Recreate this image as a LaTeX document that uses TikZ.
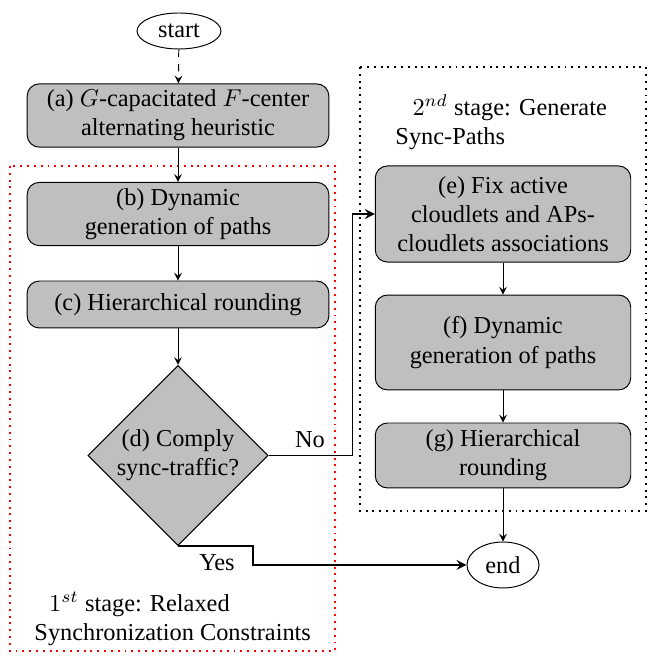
\documentclass[tikz,border=0pt]{standalone}
\usepackage{amsmath}
\usepackage{fontspec}
\setmainfont{Liberation Serif}
\usepackage{tikz}
\usetikzlibrary{shapes,arrows,positioning}

\tikzset{
  block/.style={draw, rounded corners=5pt, fill=gray!50, align=center, minimum width=124pt, inner sep=2pt},
  blockr/.style={block, minimum width=105pt},
  decision/.style={diamond, draw, fill=gray!50, align=center, minimum size=74pt, inner sep=0pt},
  term/.style={ellipse, draw, inner sep=1pt},
  stagebox/.style={dotted, line width=0.8pt},
}

\begin{document}
\begin{tikzpicture}[x=0.411pt, y=-0.411pt, >=stealth]
  \useasboundingbox (0,0) rectangle (667,658);

  % stage boxes
  \draw[stagebox, red] (10,166) rectangle (335,651);
  \draw[stagebox] (360,67) rectangle (646,511);

  % first column
  \node[term, minimum width=34.5pt, minimum height=14.8pt] (start) at (179,31) {start};
  \node[block, minimum height=26pt] (a) at (178,115.5) {(a) $G$-capacitated $F$-center\\alternating heuristic};
  \node[block, minimum height=26pt] (b) at (178,214) {(b) Dynamic\\generation of paths};
  \node[block, minimum height=19.3pt] (c) at (178,304.5) {(c) Hierarchical rounding};
  \node[decision] (d) at (178,455.5) {(d) Comply\\sync-traffic?};

  % second column
  \node[blockr, minimum height=39.5pt] (e) at (503,214) {(e) Fix active\\cloudlets and APs-\\cloudlets associations};
  \node[blockr, minimum height=39pt] (f) at (503,342.5) {(f) Dynamic\\generation of paths};
  \node[blockr, minimum height=26.7pt] (g) at (503,455.5) {(g) Hierarchical\\rounding};
  \node[term, minimum width=29.6pt, minimum height=18.9pt] (end) at (503,565) {end};

  % stage labels
  \node[anchor=north west, align=left, inner sep=0pt] (s2) at (395,94) {\hspace*{7pt}$2^{nd}$ stage: Generate\\Sync-Paths};
  \node[anchor=south west, align=left, inner sep=0pt] (s1) at (34,646) {\hspace*{6pt}$1^{st}$ stage: Relaxed\\Synchronization Constraints};

  % arrows
  \draw[->, dashed] (start) -- (a);
  \draw[->] (a) -- (b);
  \draw[->] (b) -- (c);
  \draw[->] (c) -- (d);
  \draw[->] (e) -- (f);
  \draw[->] (f) -- (g);
  \draw[->] (g) -- (end);

  % decision branches
  \draw[->, thick] (d.east) -- ++(84,0) |- (e.west);
  \draw[->, thick] (d.south) -- ++(75,0) |- (end.west);
  \node (no) at (310,440) {No};
  \node (yes) at (217,563) {Yes};
\end{tikzpicture}
\end{document}
